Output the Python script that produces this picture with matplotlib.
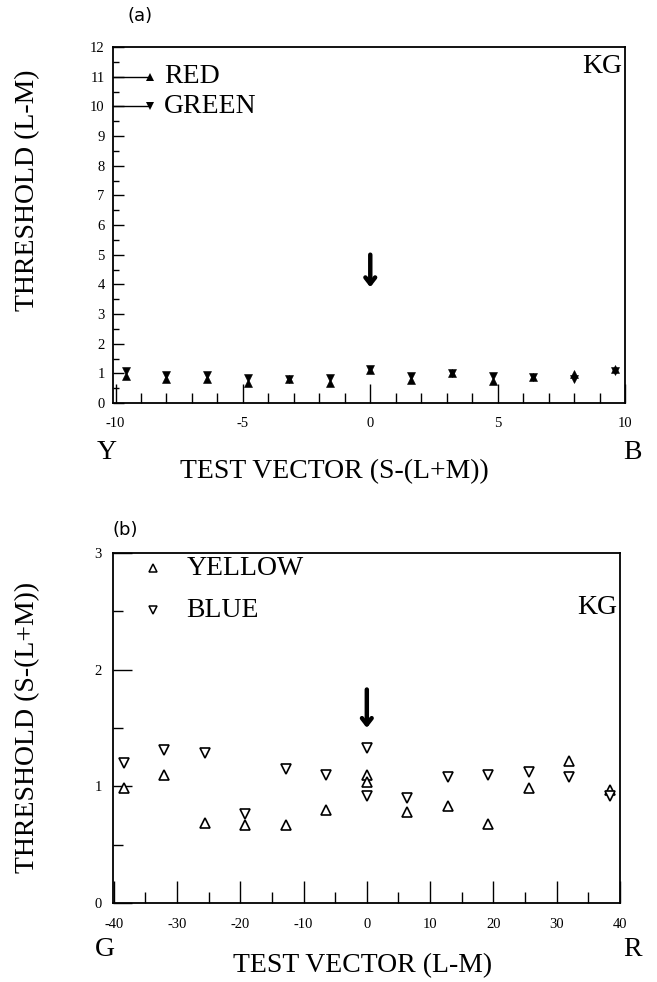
import matplotlib
matplotlib.use("Agg")
import matplotlib.pyplot as plt
import matplotlib.transforms as mtransforms
from matplotlib.ticker import MultipleLocator, FixedLocator

plt.rcParams['font.family'] = ['Liberation Serif', 'DejaVu Serif']
plt.rcParams['axes.unicode_minus'] = False

# ---------------- data: panel (a) ----------------
a_x = [-9.6, -8.0, -6.4, -4.8, -3.2, -1.6, 0.0, 1.6, 3.2, 4.8, 6.4, 8.0, 9.6]
a_red = [0.92, 0.80, 0.80, 0.68, 0.82, 0.68, 1.12, 0.78, 1.00, 0.74, 0.88, 0.98, 1.16]
a_green = [1.08, 0.96, 0.96, 0.84, 0.82, 0.84, 1.16, 0.92, 1.00, 0.90, 0.88, 0.80, 1.08]
a_xticks = [-10, -5, 0, 5, 10]
a_yticks = list(range(0, 13))

# ---------------- data: panel (b) ----------------
b_x = [-38.4, -32.0, -25.6, -19.2, -12.8, -6.4, 0.0, 0.0, 6.4, 12.8, 19.2, 25.6, 32.0, 38.4]
b_yellow = [0.99, 1.10, 0.69, 0.67, 0.67, 0.80, 1.10, 1.04, 0.78, 0.83, 0.68, 0.99, 1.22, 0.97]
b_blue = [1.20, 1.31, 1.29, 0.76, 1.15, 1.10, 1.33, 0.92, 0.90, 1.08, 1.10, 1.12, 1.08, 0.92]
b_xticks = [-40, -30, -20, -10, 0, 10, 20, 30, 40]
b_yticks = [0, 1, 2, 3]

W, H = 657, 982
fig = plt.figure(figsize=(W / 100, H / 100), dpi=100)

def box(l, r, t, b):
    return [l / W, 1 - b / H, (r - l) / W, (b - t) / H]

BIG = 20
TICKFS = 10.5

def style_axes(ax):
    for s in ['top', 'right', 'left', 'bottom']:
        ax.spines[s].set_linewidth(1.3)
    ax.tick_params(which='both', direction='in', top=False, right=False,
                   width=1.0, labelsize=TICKFS)

# ================= panel (a) =================
axa = fig.add_axes(box(113, 625, 47, 403))
style_axes(axa)
axa.set_xlim(-10.1, 10)
axa.set_ylim(0, 12)
axa.xaxis.set_major_locator(FixedLocator(a_xticks))
axa.xaxis.set_minor_locator(MultipleLocator(1))
axa.yaxis.set_major_locator(FixedLocator(a_yticks))
axa.yaxis.set_minor_locator(MultipleLocator(0.5))
axa.tick_params(axis='x', which='major', length=14, pad=10)
axa.tick_params(axis='x', which='minor', length=7)
axa.tick_params(axis='y', which='major', length=8, pad=6)
axa.tick_params(axis='y', which='minor', length=4)

axa.plot(a_x, a_red, linestyle='none', marker='^', ms=6, color='black', mew=0.4)
axa.plot(a_x, a_green, linestyle='none', marker='v', ms=6, color='black', mew=0.4)

ta = mtransforms.blended_transform_factory(axa.transAxes, axa.transData)
for yy, mk, lab in [(11, '^', 'RED'), (10, 'v', 'GREEN')]:
    axa.plot([0, 0.072], [yy, yy], color='black', lw=1.0, transform=ta, clip_on=False)
    axa.plot([0.072], [yy], marker=mk, ms=5.5, color='black', mew=0, transform=ta)
    axa.text(0.10, yy, lab, transform=ta, fontsize=BIG, va='center', ha='left')
axa.text(0.995, 0.944, 'KG', transform=axa.transAxes, fontsize=BIG, ha='right', va='center')

axa.annotate('', xy=(0, 3.9), xytext=(0, 5.0),
             arrowprops=dict(arrowstyle='->, head_length=0.45, head_width=0.35',
                             lw=3.2, color='black', shrinkA=0, shrinkB=0))

axa.text(-0.012, -0.138, 'Y', transform=axa.transAxes, fontsize=BIG, ha='center', va='center')
axa.text(1.015, -0.138, 'B', transform=axa.transAxes, fontsize=BIG, ha='center', va='center')
axa.text(0.432, -0.192, 'TEST VECTOR (S-(L+M))', transform=axa.transAxes,
         fontsize=BIG, ha='center', va='center')
fig.text(28 / W, 1 - 190 / H, 'THRESHOLD (L-M)', rotation=90, fontsize=BIG,
         ha='center', va='center')
fig.text(140 / W, 1 - 16 / H, '(a)', fontsize=13, ha='center', va='center',
         family=['DejaVu Sans'])

# ================= panel (b) =================
axb = fig.add_axes(box(113, 620, 553, 903))
style_axes(axb)
axb.set_xlim(-40.1, 40)
axb.set_ylim(0, 3)
axb.xaxis.set_major_locator(FixedLocator(b_xticks))
axb.xaxis.set_minor_locator(MultipleLocator(5))
axb.yaxis.set_major_locator(FixedLocator(b_yticks))
axb.yaxis.set_minor_locator(MultipleLocator(0.5))
axb.tick_params(axis='x', which='major', length=16, pad=10.5)
axb.tick_params(axis='x', which='minor', length=8)
axb.tick_params(axis='y', which='major', length=14, pad=8)
axb.tick_params(axis='y', which='minor', length=7)

axb.plot(b_x, b_yellow, linestyle='none', marker='^', ms=6.5, mfc='white',
         mec='black', mew=1.2)
axb.plot(b_x, b_blue, linestyle='none', marker='v', ms=6.5, mfc='white',
         mec='black', mew=1.2)

tb = mtransforms.blended_transform_factory(axb.transAxes, axb.transData)
for yy, mk, lab in [(2.87, '^', 'YELLOW'), (2.51, 'v', 'BLUE')]:
    axb.plot([0.078], [yy], marker=mk, ms=5.5, mfc='white', mec='black', mew=1.1,
             transform=tb)
    axb.text(0.145, yy, lab, transform=tb, fontsize=BIG, va='center', ha='left')
axb.text(0.995, 0.843, 'KG', transform=axb.transAxes, fontsize=BIG, ha='right', va='center')

axb.annotate('', xy=(0, 1.50), xytext=(0, 1.83),
             arrowprops=dict(arrowstyle='->, head_length=0.45, head_width=0.35',
                             lw=3.2, color='black', shrinkA=0, shrinkB=0))

axb.text(-0.016, -0.133, 'G', transform=axb.transAxes, fontsize=BIG, ha='center', va='center')
axb.text(1.025, -0.133, 'R', transform=axb.transAxes, fontsize=BIG, ha='center', va='center')
axb.text(0.493, -0.18, 'TEST VECTOR (L-M)', transform=axb.transAxes,
         fontsize=BIG, ha='center', va='center')
fig.text(28 / W, 1 - 727 / H, 'THRESHOLD (S-(L+M))', rotation=90, fontsize=BIG,
         ha='center', va='center')
fig.text(125 / W, 1 - 530 / H, '(b)', fontsize=13, ha='center', va='center',
         family=['DejaVu Sans'])

fig.savefig('out.png', dpi=100)
